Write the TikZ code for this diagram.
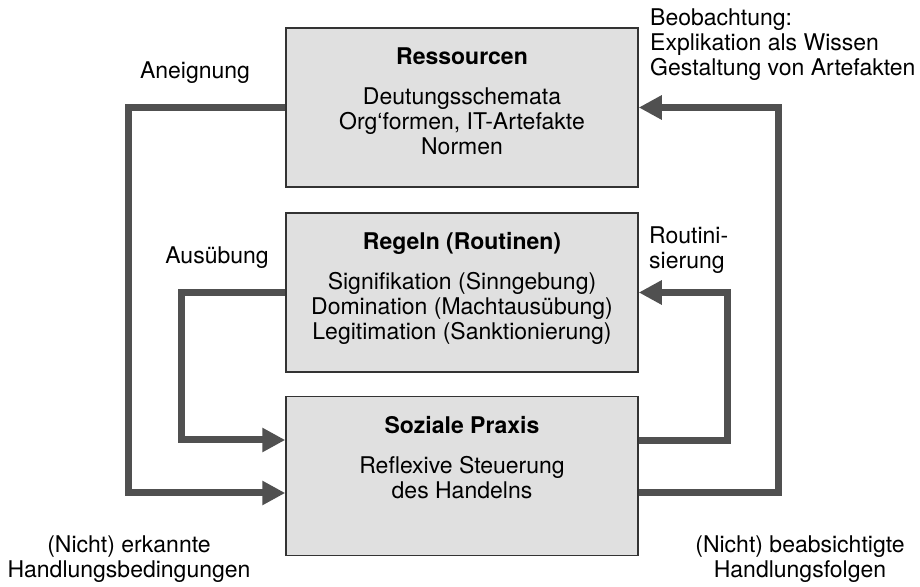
\documentclass[tikz,border=0pt]{standalone}
\usepackage{fontspec}
\setmainfont{TeX Gyre Heros}
\usetikzlibrary{positioning, arrows.meta}
\definecolor{boxgray}{HTML}{E0E0E0}
\definecolor{flowgray}{HTML}{505050}

\begin{document}
\begin{tikzpicture}[x=1pt, y=1pt,
    font=\fontsize{23}{25}\selectfont,
    box/.style={draw=black!80, line width=1.5pt, fill=boxgray, minimum width=352pt, minimum height=159pt, inner sep=0pt},
    boxtext/.style={align=center, inner sep=0pt, anchor=north},
    flow/.style={draw=flowgray, line width=7pt, -{Triangle[length=23pt, width=23pt]}},
    lbl/.style={align=center, inner sep=0pt}]
    \useasboundingbox (0,0) rectangle (920,586);
    \node[box] (res) at (462,478.5) {};
    \node[box] (reg) at (462,293.5) {};
    \node[box] (prax) at (462,110) {};
    \node[boxtext] (restext) at ([yshift=-20pt]res.north) {\textbf{Ressourcen}\\[15pt]Deutungsschemata\\Org‘formen, IT-Artefakte\\Normen};
    \node[boxtext] (regtext) at ([yshift=-20pt]reg.north) {\textbf{Regeln (Routinen)}\\[15pt]Signifikation (Sinngebung)\\Domination (Machtausübung)\\Legitimation (Sanktionierung)};
    \node[boxtext] (praxtext) at ([yshift=-20pt]prax.north) {\textbf{Soziale Praxis}\\[15pt]Reflexive Steuerung\\des Handelns};
    \draw[flow] (res.west) -- ++(-157,0) |- ([yshift=-17pt]prax.west);
    \draw[flow] (reg.west) -- ++(-104,0) |- ([yshift=36pt]prax.west);
    \draw[flow] ([yshift=35pt]prax.east) -- ++(89,0) |- (reg.east);
    \draw[flow] ([yshift=-17pt]prax.east) -- ++(140,0) |- (res.east);
    \node[lbl] (aneig) at (195,513) {Aneignung};
    \node[lbl] (ausueb) at (217,328) {Ausübung};
    \node[lbl, anchor=west, align=left] (beob) at (650,541) {Beobachtung:\\Explikation als Wissen\\Gestaltung von Artefakten};
    \node[lbl, anchor=west, align=left] (rout) at (649,335.5) {Routini-\\sierung};
    \node[lbl] (bedin) at (129,26.5) {(Nicht) erkannte\\Handlungsbedingungen};
    \node[lbl] (folg) at (800,26.5) {(Nicht) beabsichtigte\\Handlungsfolgen};
\end{tikzpicture}
\end{document}
